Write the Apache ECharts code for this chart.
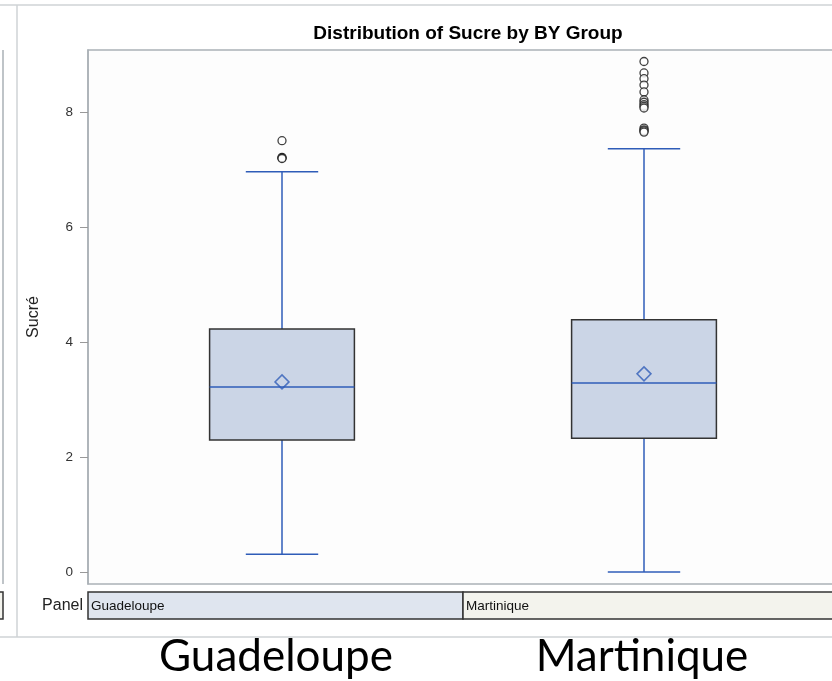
<!DOCTYPE html>
<html>
<head>
<meta charset="utf-8">
<script src="https://cdn.jsdelivr.net/npm/echarts@6/dist/echarts.min.js"></script>
<style>
  html, body { margin: 0; padding: 0; background: #fff; }
  #chart { width: 832px; height: 681px; }
</style>
</head>
<body>
<div id="chart"></div>
<script>
// groups (BY values)
const groups = ['Guadeloupe', 'Martinique'];
// box stats per group: [min whisker, Q1, median, Q3, max whisker]
const boxStats = [
  [0.31, 2.30, 3.22, 4.23, 6.97],
  [0.00, 2.33, 3.29, 4.39, 7.37]
];
const means = [3.31, 3.45];
// outliers per group
const outliersGuadeloupe = [7.51, 7.22, 7.21, 7.20];
const outliersMartinique = [8.89, 8.69, 8.59, 8.48, 8.36, 8.22, 8.18, 8.14, 8.11, 8.08, 7.73, 7.70, 7.68, 7.66];
const yTicks = [0, 2, 4, 6, 8];

const blue = '#2f5cb8';
const font = '"Liberation Sans", Arial, sans-serif';
const bigFont = 'Lato, "Open Sans", sans-serif';

const boxData = boxStats.map((s, i) => [i].concat(s));
const meanData = means.map((m, i) => [i, m]);
const outlierData = []
  .concat(outliersGuadeloupe.map(v => [0, v]))
  .concat(outliersMartinique.map(v => [1, v]));

function renderBox(params, api) {
  const i = api.value(0);
  const band = api.size([1, 0])[0];
  const hw = band * 0.2;   // half box width
  const cw = band * 0.1;   // half cap width
  const lo = api.coord([i, api.value(1)]);
  const q1 = api.coord([i, api.value(2)]);
  const med = api.coord([i, api.value(3)]);
  const q3 = api.coord([i, api.value(4)]);
  const hi = api.coord([i, api.value(5)]);
  const cx = lo[0];
  const line = (x1, y1, x2, y2) => ({
    type: 'line',
    shape: { x1, y1, x2, y2 },
    style: { stroke: blue, lineWidth: 1.5 }
  });
  return {
    type: 'group',
    children: [
      line(cx, hi[1], cx, q3[1]),
      line(cx, q1[1], cx, lo[1]),
      line(cx - cw, hi[1], cx + cw, hi[1]),
      line(cx - cw, lo[1], cx + cw, lo[1]),
      {
        type: 'rect',
        shape: { x: cx - hw, y: q3[1], width: hw * 2, height: q1[1] - q3[1] },
        style: { fill: '#cbd5e6', stroke: '#333', lineWidth: 1.5 }
      },
      line(cx - hw, med[1], cx + hw, med[1])
    ]
  };
}

const chart = echarts.init(document.getElementById('chart'), null, { renderer: 'canvas' });

chart.setOption({
  backgroundColor: '#fff',
  animation: false,
  title: {
    text: 'Distribution of Sucre by BY Group',
    left: 463,
    top: 19,
    textAlign: 'center',
    textStyle: { fontFamily: font, fontSize: 19, fontWeight: 'bold', color: '#000' }
  },
  grid: { left: 101, right: 7, top: 50, bottom: 97 },
  xAxis: {
    type: 'category',
    data: groups,
    show: false
  },
  yAxis: {
    type: 'value',
    min: -0.21,
    max: 9.09,
    offset: 13,
    name: 'Sucré',
    nameLocation: 'middle',
    nameRotate: 90,
    nameGap: 46,
    nameTextStyle: { fontFamily: font, fontSize: 16, color: '#222' },
    axisLine: { show: true, lineStyle: { color: '#aab1b6', width: 1.5 } },
    axisTick: { show: true, length: 8, customValues: yTicks, lineStyle: { color: '#999' } },
    axisLabel: { customValues: yTicks, margin: 15, fontFamily: font, fontSize: 13.5, color: '#333' },
    splitLine: { show: false }
  },
  graphic: [
    // frame lines around the panel
    { type: 'line', shape: { x1: 0, y1: 5, x2: 832, y2: 5 }, style: { stroke: '#cfd3d6', lineWidth: 1.5 }, z: 0 },
    { type: 'line', shape: { x1: 17, y1: 5, x2: 17, y2: 637 }, style: { stroke: '#cfd3d6', lineWidth: 1.5 }, z: 0 },
    { type: 'line', shape: { x1: 0, y1: 637, x2: 832, y2: 637 }, style: { stroke: '#cfd3d6', lineWidth: 1.5 }, z: 0 },
    // left neighbour panel edge
    { type: 'line', shape: { x1: 3, y1: 50, x2: 3, y2: 584 }, style: { stroke: '#aab1b6', lineWidth: 1.5 }, z: 0 },
    { type: 'rect', shape: { x: -10, y: 592, width: 13, height: 27 }, style: { fill: '#f3f3ed', stroke: '#333', lineWidth: 1.5 }, z: 0 },
    // plot frame
    { type: 'rect', shape: { x: 88, y: 50, width: 760, height: 534 }, style: { fill: '#fdfdfd', stroke: '#aab1b6', lineWidth: 1.5 }, z: -1 },
    // panel strip
    { type: 'text', x: 83, y: 606, style: { text: 'Panel', fontFamily: font, fontSize: 16, fill: '#222', align: 'right', verticalAlign: 'middle' } },
    { type: 'rect', shape: { x: 88, y: 592, width: 375, height: 27 }, style: { fill: '#dfe5ef', stroke: '#333', lineWidth: 1.5 } },
    { type: 'rect', shape: { x: 463, y: 592, width: 380, height: 27 }, style: { fill: '#f3f3ed', stroke: '#333', lineWidth: 1.5 } },
    { type: 'text', x: 91, y: 606, style: { text: groups[0], fontFamily: font, fontSize: 13.5, fill: '#111', verticalAlign: 'middle' } },
    { type: 'text', x: 466, y: 606, style: { text: groups[1], fontFamily: font, fontSize: 13.5, fill: '#111', verticalAlign: 'middle' } },
    // big labels under the panel
    { type: 'text', x: 276, y: 657, style: { text: groups[0], fontFamily: bigFont, fontSize: 44, fill: '#000', align: 'center', verticalAlign: 'middle' } },
    { type: 'text', x: 642, y: 657, style: { text: groups[1], fontFamily: bigFont, fontSize: 44, fill: '#000', align: 'center', verticalAlign: 'middle' } }
  ],
  series: [
    {
      type: 'custom',
      name: 'box',
      renderItem: renderBox,
      encode: { x: 0, y: [1, 2, 3, 4, 5] },
      data: boxData,
      z: 2
    },
    {
      type: 'scatter',
      name: 'mean',
      data: meanData,
      symbol: 'diamond',
      symbolSize: [14, 14],
      itemStyle: { color: 'rgba(0,0,0,0)', borderColor: blue, borderWidth: 1.5 },
      z: 3
    },
    {
      type: 'scatter',
      name: 'outliers',
      data: outlierData,
      symbol: 'circle',
      symbolSize: 8,
      itemStyle: { color: '#fff', borderColor: '#111', borderWidth: 1.3 },
      z: 3
    }
  ]
});
</script>
</body>
</html>
